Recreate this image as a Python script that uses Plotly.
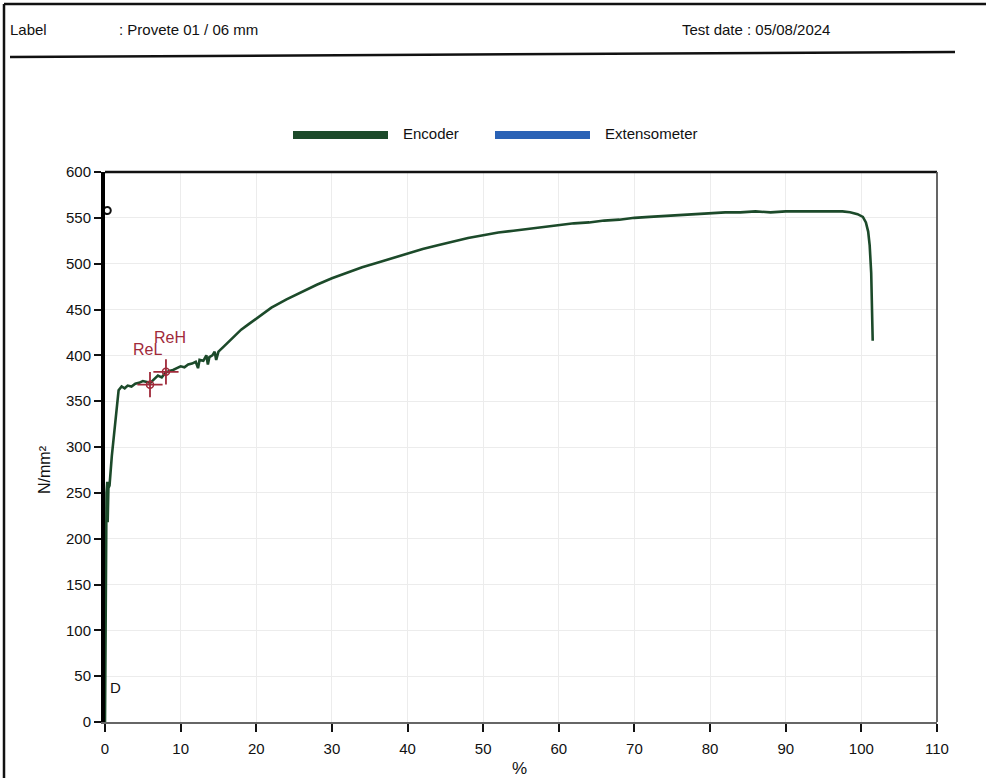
import plotly.graph_objects as go

# ---- data ----
strain_pct = [0, 0.1, 0.2, 0.3, 0.35, 0.45, 0.6, 0.9, 1.1, 1.4, 1.6, 1.8, 2.2, 2.6, 3.0, 3.5,
              4.0, 4.5, 5.0, 5.5, 6.0, 6.5, 7.0, 7.5, 8.0, 8.5, 9.0, 9.5, 10, 10.5, 11, 11.5,
              12, 12.3, 12.5, 13, 13.4, 13.6, 13.8, 14.2, 14.5, 14.7, 15, 16, 17, 18, 19, 20,
              22, 24, 26, 28, 30, 32, 34, 36, 38, 40, 42, 44, 46, 48, 50, 52, 54, 56, 58, 60,
              62, 64, 66, 68, 70, 72, 74, 76, 78, 80, 82, 84, 86, 88, 90, 92, 94, 96, 97.5,
              98.5, 99.5, 100.2, 100.6, 100.9, 101.1, 101.3, 101.4, 101.5]
stress_nmm2 = [0, 150, 250, 262, 218, 255, 258, 290, 305, 330, 345, 362, 366, 364, 367, 366,
               369, 370, 372, 371, 370, 374, 378, 376, 381, 383, 384, 386, 388, 387, 390, 391,
               393, 386, 395, 394, 400, 390, 398, 400, 404, 395, 404, 412, 420, 428, 434, 440,
               452, 461, 469, 477, 484, 490, 496, 501, 506, 511, 516, 520, 524, 528, 531, 534,
               536, 538, 540, 542, 544, 545, 547, 548, 550, 551, 552, 553, 554, 555, 556, 556,
               557, 556, 557, 557, 557, 557, 557, 556, 554, 551, 545, 535, 520, 490, 450, 416]

yield_names = ["ReL", "ReH"]
yield_x = [5.95, 8.06]
yield_y = [368, 382]

p_point = (0.3, 558)
d_point = (0.45, 38)

x_ticks = list(range(0, 111, 10))
y_ticks = list(range(0, 601, 50))

series_names = ["Encoder", "Extensometer"]
series_colors = ["#1c4a2a", "#2a62b6"]

header_label = "Label"
header_value = ": Provete 01 / 06 mm"
header_date = "Test date : 05/08/2024"

FONT = "Liberation Sans, Arial"
RED = "#a02a3a"

# ---- figure ----
fig = go.Figure()
fig.add_trace(go.Scatter(x=strain_pct, y=stress_nmm2, mode="lines",
                         line=dict(color=series_colors[0], width=2.6),
                         name=series_names[0], showlegend=False, hoverinfo="skip"))
fig.add_trace(go.Scatter(x=yield_x, y=yield_y, mode="markers",
                         marker=dict(symbol="cross-thin-open", size=18, color=RED,
                                     line=dict(color=RED, width=1.8)),
                         showlegend=False, hoverinfo="skip"))
fig.add_trace(go.Scatter(x=yield_x, y=yield_y, mode="markers",
                         marker=dict(symbol="circle-open", size=7, color=RED,
                                     line=dict(color=RED, width=1.5)),
                         showlegend=False, hoverinfo="skip"))
fig.add_trace(go.Scatter(x=[p_point[0]], y=[p_point[1]], mode="markers",
                         marker=dict(symbol="circle-open", size=7, color="#111",
                                     line=dict(color="#111", width=2)),
                         showlegend=False, hoverinfo="skip"))

annotations = []
annotations.append(dict(x=yield_x[0] - 0.3, y=yield_y[0] + 38, xref="x", yref="y",
                        text=yield_names[0], showarrow=False,
                        font=dict(family=FONT, size=16, color=RED)))
annotations.append(dict(x=yield_x[1] + 0.5, y=yield_y[1] + 38, xref="x", yref="y",
                        text=yield_names[1], showarrow=False,
                        font=dict(family=FONT, size=16, color=RED)))
annotations.append(dict(x=d_point[0], y=d_point[1], xref="x", yref="y", text="D",
                        showarrow=False, xanchor="left",
                        font=dict(family=FONT, size=15, color="#111")))


def px2paper_x(px):
    return (px - 105) / 832.0


def px2paper_y(py):
    return (722 - py) / 550.0


for txt, px in [(header_label, 8), (header_value, 117), (header_date, 680)]:
    annotations.append(dict(x=px2paper_x(px), y=px2paper_y(30), xref="paper", yref="paper",
                            text=txt, showarrow=False, xanchor="left", yanchor="middle",
                            font=dict(family=FONT, size=15, color="#111")))
for txt, px in [(series_names[0], 401), (series_names[1], 603)]:
    annotations.append(dict(x=px2paper_x(px), y=px2paper_y(133), xref="paper", yref="paper",
                            text=txt, showarrow=False, xanchor="left", yanchor="middle",
                            font=dict(family=FONT, size=15, color="#111")))
annotations.append(dict(x=px2paper_x(519), y=px2paper_y(768), xref="paper", yref="paper",
                        text="%", showarrow=False, xanchor="center", yanchor="middle",
                        font=dict(family=FONT, size=17, color="#111")))
annotations.append(dict(x=px2paper_x(45), y=px2paper_y(470), xref="paper", yref="paper",
                        text="N/mm²", showarrow=False, textangle=-90,
                        xanchor="center", yanchor="middle",
                        font=dict(family=FONT, size=16, color="#111")))

shapes = []
shapes.append(dict(type="line", xref="paper", yref="paper",
                   x0=px2paper_x(4), x1=px2paper_x(986), y0=px2paper_y(4), y1=px2paper_y(4),
                   line=dict(color="#111", width=2.5)))
shapes.append(dict(type="line", xref="paper", yref="paper",
                   x0=px2paper_x(4), x1=px2paper_x(4), y0=px2paper_y(4), y1=px2paper_y(780),
                   line=dict(color="#111", width=2.5)))
shapes.append(dict(type="line", xref="paper", yref="paper",
                   x0=px2paper_x(10), x1=px2paper_x(955), y0=px2paper_y(57), y1=px2paper_y(52),
                   line=dict(color="#111", width=2.5)))
for (x0, x1), col in zip([(293, 388), (495, 590)], series_colors):
    shapes.append(dict(type="line", xref="paper", yref="paper",
                       x0=px2paper_x(x0), x1=px2paper_x(x1), y0=px2paper_y(135), y1=px2paper_y(135),
                       line=dict(color=col, width=8)))
shapes.append(dict(type="line", xref="paper", yref="paper", x0=0, x1=1, y0=1, y1=1,
                   line=dict(color="#111", width=2.5)))
shapes.append(dict(type="line", xref="paper", yref="paper", x0=1, x1=1, y0=0, y1=1,
                   line=dict(color="#555", width=1.8)))

fig.update_layout(
    width=986, height=778,
    margin=dict(l=105, r=49, t=172, b=56),
    paper_bgcolor="white", plot_bgcolor="white",
    showlegend=False,
    annotations=annotations,
    shapes=shapes,
    xaxis=dict(range=[0, 110], tickvals=x_ticks, ticks="outside", ticklen=8, tickwidth=2,
               tickcolor="#111", showline=True, linecolor="#666", linewidth=2,
               showgrid=True, gridcolor="#ececec", gridwidth=1, zeroline=False,
               ticklabelstandoff=4, automargin=False,
               tickfont=dict(family=FONT, size=15, color="#111")),
    yaxis=dict(range=[0, 600], tickvals=y_ticks, ticks="outside", ticklen=7, tickwidth=1.5,
               tickcolor="#111", showline=True, linecolor="#000", linewidth=4,
               showgrid=True, gridcolor="#ececec", gridwidth=1, zeroline=False,
               automargin=False,
               tickfont=dict(family=FONT, size=15, color="#111")),
)

fig.write_html("out.html", config={"displayModeBar": False})
